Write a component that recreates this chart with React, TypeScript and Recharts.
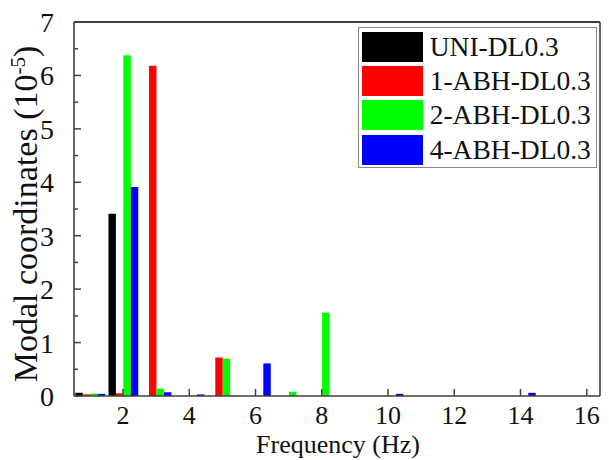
import React from 'react'
import { BarChart, Bar, XAxis, YAxis, Legend, ReferenceLine, Label } from 'recharts'

// cluster centres (Hz) and modal coordinates (x 10^-5) per configuration
const frequencies = [1, 2, 3, 4, 5, 6, 7, 8, 10, 14]
const uniDL = [0.06, 3.41, 0, 0, 0, 0, 0, 0, 0, 0]
const abh1DL = [0.03, 0.05, 6.18, 0, 0.72, 0, 0, 0, 0, 0]
const abh2DL = [0.045, 6.38, 0.14, 0, 0.7, 0, 0.08, 1.56, 0, 0]
const abh4DL = [0.04, 3.91, 0.07, 0.03, 0.01, 0.61, 0, 0, 0.04, 0.06]

const xTicks = [2, 4, 6, 8, 10, 12, 14, 16]
const yTicks = [0, 0.5, 1, 1.5, 2, 2.5, 3, 3.5, 4, 4.5, 5, 5.5, 6, 6.5, 7]

const seriesList = [
  { key: 'uni', name: 'UNI-DL0.3', color: '#000000' },
  { key: 'abh1', name: '1-ABH-DL0.3', color: '#ff0000' },
  { key: 'abh2', name: '2-ABH-DL0.3', color: '#00ff00' },
  { key: 'abh4', name: '4-ABH-DL0.3', color: '#0000ff' },
]

const data = frequencies.map((f, i) => ({
  f,
  uni: uniDL[i],
  abh1: abh1DL[i],
  abh2: abh2DL[i],
  abh4: abh4DL[i],
}))

const AXIS = '#404040'
const FONT = 'Liberation Serif, DejaVu Serif, serif'

function XTick({ x, y, payload }: any) {
  return (
    <g>
      <line x1={x} y1={y} x2={x} y2={y - 7} stroke={AXIS} strokeWidth={1.5} />
      <text x={x} y={y + 28} textAnchor="middle" fontSize={26} fontFamily={FONT} fill="#111">
        {payload.value}
      </text>
    </g>
  )
}

function YTick({ x, y, payload }: any) {
  const major = Number.isInteger(payload.value)
  return (
    <g>
      <line x1={x} y1={y} x2={x + (major ? 7 : 4)} y2={y} stroke={AXIS} strokeWidth={1.5} />
      {major && (
        <text x={x - 20} y={y + 10} textAnchor="end" fontSize={28} fontFamily={FONT} fill="#111">
          {payload.value}
        </text>
      )}
    </g>
  )
}

function XTitle() {
  return (
    <text x={338} y={453} textAnchor="middle" fontSize={26} fontFamily={FONT} fill="#111">
      Frequency (Hz)
    </text>
  )
}

function YTitle() {
  return (
    <text transform="translate(37, 214) rotate(-90)" textAnchor="middle" fontSize={34} fontFamily={FONT} fill="#111">
      Modal coordinates (10
      <tspan dy={-12} fontSize={21}>-5</tspan>
      <tspan dy={12}>)</tspan>
    </text>
  )
}

function LegendBox() {
  return (
    <div
      style={{
        border: '1px solid #888',
        background: '#fff',
        padding: '1.5px 0 0 2.7px',
        width: 239,
        height: 141,
        boxSizing: 'border-box',
      }}
    >
      {seriesList.map((s) => (
        <div key={s.key} style={{ display: 'flex', alignItems: 'center', height: 34.3 }}>
          <div style={{ width: 61, height: 30, background: s.color }} />
          <span style={{ marginLeft: 7, fontSize: 27.5, fontFamily: FONT, color: '#111', lineHeight: 1 }}>
            {s.name}
          </span>
        </div>
      ))}
    </div>
  )
}

export default function App() {
  return (
    <div style={{ position: 'absolute', left: 0, top: 0, background: '#fff' }}>
      <BarChart
        width={609}
        height={460}
        data={data}
        margin={{ top: 22, right: 9, bottom: 63, left: 0 }}
        barGap={0}
        barSize={8.3}
      >
        <XAxis
          dataKey="f"
          type="number"
          height={1}
          domain={[0.52, 16.4]}
          allowDataOverflow
          ticks={xTicks}
          interval={0}
          tickSize={0}
          tickMargin={0}
          tickLine={false}
          tick={<XTick />}
          axisLine={{ stroke: AXIS, strokeWidth: 1.6 }}
        >
          <Label content={<XTitle />} />
        </XAxis>
        <YAxis
          type="number"
          width={74}
          domain={[0, 7]}
          ticks={yTicks}
          interval={0}
          tickSize={0}
          tickMargin={0}
          tickLine={false}
          tick={<YTick />}
          axisLine={{ stroke: AXIS, strokeWidth: 1.6 }}
        >
          <Label content={<YTitle />} />
        </YAxis>
        <ReferenceLine y={7} stroke={AXIS} strokeWidth={2} />
        <ReferenceLine x={16.4} stroke={AXIS} strokeWidth={1.6} />
        {seriesList.map((s) => (
          <Bar key={s.key} dataKey={s.key} name={s.name} fill={s.color} isAnimationActive={false} />
        ))}
        <Legend
          layout="vertical"
          align="center"
          verticalAlign="middle"
          content={() => <LegendBox />}
          wrapperStyle={{ top: 27, left: 358, right: 'auto', bottom: 'auto', width: 'auto', height: 'auto' }}
        />
      </BarChart>
    </div>
  )
}
